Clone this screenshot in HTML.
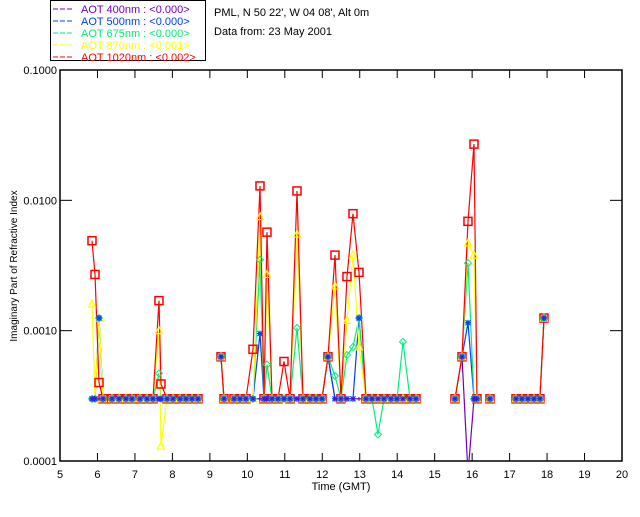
<!DOCTYPE html>
<html><head><meta charset="utf-8"><style>
body{margin:0;background:#fff;}
svg text{font-family:"Liberation Sans",sans-serif;}
</style></head><body>
<svg id="chart" width="640" height="512" viewBox="0 0 640 512" xmlns="http://www.w3.org/2000/svg">
<rect width="640" height="512" fill="#fff"/>
<g id="legend">
<rect x="50.5" y="0.5" width="155" height="60" fill="#fff" stroke="#000"/>
</g>
<text x="214" y="16" font-size="11">PML, N 50 22', W 04 08', Alt 0m</text>
<text x="214" y="35" font-size="11">Data from: 23 May 2001</text>
<g id="axes"></g>
<g id="plot"></g>
<text x="341" y="490" font-size="11" text-anchor="middle">Time (GMT)</text>
<text transform="translate(17,266) rotate(-90)" font-size="10" text-anchor="middle">Imaginary Part of Refractive Index</text>
</svg>
<script>
const times=[5.854,5.934,6.041,6.148,6.388,6.575,6.761,6.922,7.135,7.322,7.482,7.642,7.695,7.856,8.016,8.203,8.363,8.523,8.683,null,
9.297,9.377,null,
9.644,9.804,9.964,10.151,10.338,10.444,10.524,10.658,10.818,10.978,11.138,11.325,11.485,11.672,11.832,11.992,12.152,12.339,12.499,12.659,12.82,12.98,13.167,13.327,13.487,13.647,13.834,13.994,14.154,14.341,14.501,null,
15.542,15.729,15.889,16.049,16.129,null,16.476,null,
17.17,17.33,17.49,17.65,17.81,17.917];
const redVals=[.0049,.0027,.0004,.0003,.0003,.0003,.0003,.0003,.0003,.0003,.0003,.0017,.00039,.0003,.0003,.0003,.0003,.0003,.0003,null,
.00063,.0003,null,
.0003,.0003,.0003,.00072,.0129,.0003,.0057,.0003,.0003,.00058,.0003,.0118,.0003,.0003,.0003,.0003,.00063,.0038,.0003,.0026,.0079,.0028,.0003,.0003,.0003,.0003,.0003,.0003,.0003,.0003,.0003,null,
.0003,.00063,.0069,.027,.0003,null,.0003,null,
.0003,.0003,.0003,.0003,.0003,.00125];
const yellowVals=[.0016,.0003,.00125,.0003,.0003,.0003,.0003,.0003,.0003,.0003,.0003,.001,.00013,.0003,.0003,.0003,.0003,.0003,.0003,null,
.00063,.0003,null,
.0003,.0003,.0003,.0003,.0075,.0003,.0027,.0003,.0003,.0003,.0003,.0055,.0003,.0003,.0003,.0003,.00063,.0022,.0003,.0012,.0038,.00075,.0003,.0003,.0003,.0003,.0003,.0003,.0003,.0003,.0003,null,
.0003,.00063,.0047,.0038,.0003,null,.0003,null,
.0003,.0003,.0003,.0003,.0003,.00125];
const greenVals=[.0003,.0003,.00125,.0003,.0003,.0003,.0003,.0003,.0003,.0003,.0003,.00047,.0003,.0003,.0003,.0003,.0003,.0003,.0003,null,
.00063,.0003,null,
.0003,.0003,.0003,.0003,.0035,.0003,.00055,.0003,.0003,.0003,.0003,.00105,.0003,.0003,.0003,.0003,.00063,.00045,.0003,.00065,.00075,.00125,.0003,.0003,.00016,.0003,.0003,.0003,.00082,.0003,.0003,null,
.0003,.00063,.0033,.0003,.0003,null,.0003,null,
.0003,.0003,.0003,.0003,.0003,.00125];
const blueVals=[.0003,.0003,.00125,.0003,.0003,.0003,.0003,.0003,.0003,.0003,.0003,.0003,.0003,.0003,.0003,.0003,.0003,.0003,.0003,null,
.00063,.0003,null,
.0003,.0003,.0003,.0003,.00095,.0003,.0003,.0003,.0003,.0003,.0003,.0003,.0003,.0003,.0003,.0003,.00063,.0003,.0003,.0003,.0003,.00125,.0003,.0003,.0003,.0003,.0003,.0003,.0003,.0003,.0003,null,
.0003,.00063,.00115,.0003,.0003,null,.0003,null,
.0003,.0003,.0003,.0003,.0003,.00125];
const purpleVals=[.0003,.0003,.0003,.0003,.0003,.0003,.0003,.0003,.0003,.0003,.0003,.0003,.0003,.0003,.0003,.0003,.0003,.0003,.0003,null,
.00063,.0003,null,
.0003,.0003,.0003,.0003,.0003,.0003,.0003,.0003,.0003,.0003,.0003,.0003,.0003,.0003,.0003,.0003,.00063,.0003,.0003,.0003,.0003,.0003,.0003,.0003,.0003,.0003,.0003,.0003,.0003,.0003,.0003,null,
.0003,.00063,.00008,.0003,.0003,null,.0003,null,
.0003,.0003,.0003,.0003,.0003,.00125];
const xTicks=[5,6,7,8,9,10,11,12,13,14,15,16,17,18,19,20];
const yTicks=[0.0001,0.001,0.01,0.1];
const yTickLabels=["0.0001","0.0010","0.0100","0.1000"];
const legendLabels=["AOT  400nm : <0.000>","AOT  500nm : <0.000>","AOT  675nm : <0.000>","AOT  870nm : <0.001>","AOT 1020nm : <0.002>"];
const legendColors=["#7000c0","#0040ff","#00ee80","#ffff00","#ff0000"];

const NS="http://www.w3.org/2000/svg";
const L=60,R=622,T=70,B=461;
const xS=t=>L+(t-5)/(20-5)*(R-L);
const yS=v=>B-(Math.log10(v)+4)/3*(B-T);
function mk(tag,attrs,parent){const e=document.createElementNS(NS,tag);for(const k in attrs)e.setAttribute(k,attrs[k]);parent.appendChild(e);return e;}

const ax=document.getElementById('axes');
const frame=mk('rect',{x:L,y:T,width:R-L,height:B-T,fill:'none',stroke:'#000','stroke-width':1.5},ax);


xTicks.forEach(t=>{
  const x=xS(t);
  mk('line',{x1:x,y1:B,x2:x,y2:B-8,stroke:'#000'},ax);
  mk('line',{x1:x,y1:T,x2:x,y2:T+8,stroke:'#000'},ax);
  const tx=mk('text',{x:x,y:B+17,'font-size':11,'text-anchor':'middle'},ax);
  tx.textContent=t;
  
  
});
yTicks.forEach((v,i)=>{
  const y=yS(v);
  mk('line',{x1:L,y1:y,x2:L+12,y2:y,stroke:'#000'},ax);
  mk('line',{x1:R,y1:y,x2:R-12,y2:y,stroke:'#000'},ax);
  const tx=mk('text',{x:L-3,y:y+4,'font-size':11,'text-anchor':'end'},ax);
  tx.textContent=yTickLabels[i];
  
  
});

const lg=document.getElementById('legend');
legendLabels.forEach((lab,i)=>{
  const y=9+i*12;
  mk('line',{x1:53,y1:y,x2:73,y2:y,stroke:legendColors[i],'stroke-dasharray':'5,2'},lg);
  const tx=mk('text',{x:81,y:y+4,'font-size':11,fill:legendColors[i],'xml:space':'preserve'},lg);
  tx.textContent=lab;
  
  
});

const plot=document.getElementById('plot');
const cp=mk('clipPath',{id:'clip'},plot);
mk('rect',{x:L,y:T,width:R-L,height:B-T},cp);
const series=[
 {vals:purpleVals,color:'#7000c0',m:'plus',name:'series-400nm'},
 {vals:blueVals,color:'#0040ff',m:'star',name:'series-500nm'},
 {vals:greenVals,color:'#00ee80',m:'diamond',name:'series-675nm'},
 {vals:yellowVals,color:'#ffff00',m:'triangle',name:'series-870nm'},
 {vals:redVals,color:'#ff0000',m:'square',name:'series-1020nm'}
];
const lineLayer=mk('g',{'clip-path':'url(#clip)'},plot);
const markLayer=mk('g',{'clip-path':'url(#clip)'},plot);
const groups={};
series.forEach(s=>{
  const g=mk('g',{},lineLayer);
  
  
  let d='',pen=false;
  times.forEach((t,i)=>{
    const v=s.vals[i];
    if(t===null||v===null){pen=false;return;}
    d+=(pen?'L':'M')+xS(t).toFixed(1)+' '+yS(v).toFixed(1)+' ';pen=true;
  });
  mk('path',{d:d,fill:'none',stroke:s.color,'stroke-width':1.2},g);
});
series.slice().reverse().forEach(s=>{
  const g=mk('g',{},markLayer);
  
  
  times.forEach((t,i)=>{
    const v=s.vals[i];
    if(t===null||v===null)return;
    const x=xS(t),y=yS(v);let e;
    if(s.m==='square')e=mk('rect',{x:x-4,y:y-4,width:8,height:8,fill:'none',stroke:s.color,'stroke-width':1.5},g);
    else if(s.m==='triangle')e=mk('path',{d:`M${x} ${y-4}L${x+3.5} ${y+3}L${x-3.5} ${y+3}Z`,fill:'none',stroke:s.color,'stroke-width':1.2},g);
    else if(s.m==='diamond')e=mk('path',{d:`M${x} ${y-3.5}L${x+3.5} ${y}L${x} ${y+3.5}L${x-3.5} ${y}Z`,fill:'none',stroke:s.color,'stroke-width':1},g);
    else if(s.m==='star')e=mk('path',{d:`M${x-3} ${y}H${x+3}M${x} ${y-3}V${y+3}M${x-2.5} ${y-2.5}L${x+2.5} ${y+2.5}M${x-2.5} ${y+2.5}L${x+2.5} ${y-2.5}`,stroke:s.color,'stroke-width':1.2},g);
    else e=mk('path',{d:`M${x-2} ${y}H${x+2}M${x} ${y-2}V${y+2}`,stroke:s.color,'stroke-width':1},g);
    
    
  });
});
</script>
</body></html>
